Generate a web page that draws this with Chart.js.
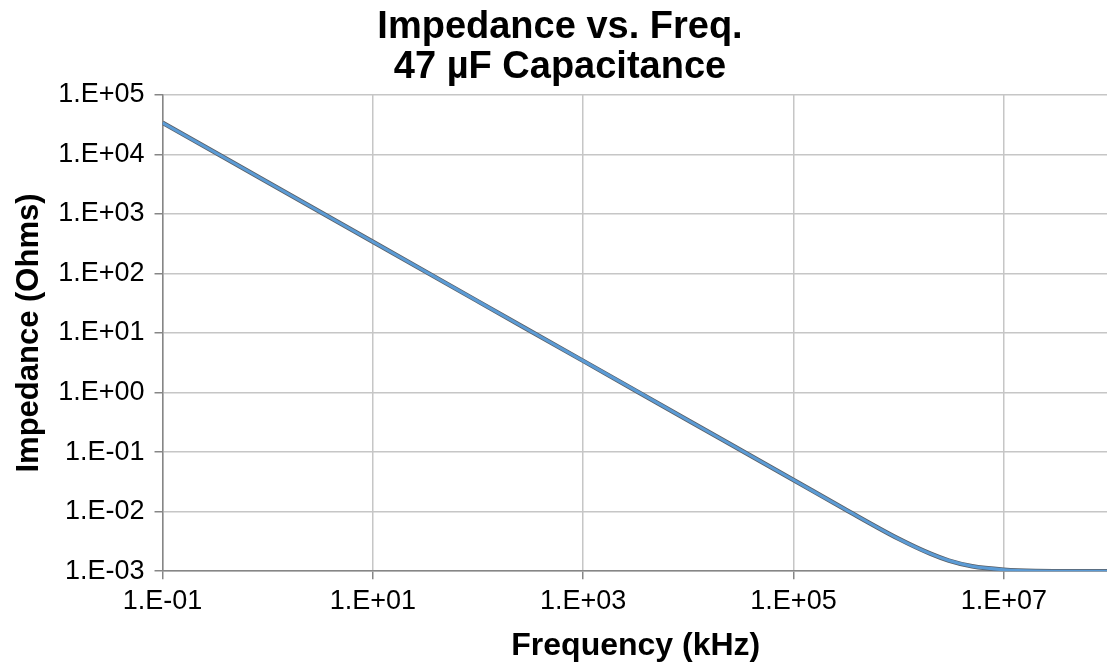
<!DOCTYPE html>
<html>
<head>
<meta charset="utf-8">
<script src="https://cdn.jsdelivr.net/npm/chart.js@4/dist/chart.umd.min.js"></script>
<style>
    html, body { margin: 0; padding: 0; background: #fff; overflow: hidden; }
    #wrap { position: relative; width: 1110px; height: 665px; }
</style>
</head>
<body>
<div id="wrap"><canvas id="impedanceChart"></canvas></div>
<script>
// frequency in kHz and impedance in ohms
const freqKHz = [0.1, 1, 10, 100, 1e3, 1e4, 1e5, 3e5, 1e6, 2e6, 3e6, 5e6, 1e7, 2e7, 5e7, 1e8];
const impedanceOhms = [3.4e4, 3.4e3, 340, 34, 3.4, 0.34, 0.034, 0.0113, 0.0035, 0.00197, 0.00151, 0.00121, 0.00106, 0.00101, 0.00100, 0.00100];

const xTicks = [1e-1, 1e1, 1e3, 1e5, 1e7];
const yTicks = [1e-3, 1e-2, 1e-1, 1e0, 1e1, 1e2, 1e3, 1e4, 1e5];

const FONT = "'Liberation Sans', Arial, sans-serif";
const AXIS_COLOR = "#868686";
const GRID_COLOR = "#c6c6c6";

function sciLabel(value) {
    const exp = Math.round(Math.log10(value));
    const sign = exp < 0 ? "-" : "+";
    return `1.E${sign}${String(Math.abs(exp)).padStart(2, "0")}`;
}

function points() {
    return freqKHz.map((f, i) => ({ x: f, y: impedanceOhms[i] }));
}

new Chart(document.getElementById("impedanceChart"), {
    type: "line",
    data: {
        datasets: [
            // first dataset is painted on top
            {
                data: points(),
                borderColor: "#5b9bd5",
                borderWidth: 3,
                pointRadius: 0,
                cubicInterpolationMode: "monotone"
            },
            {
                data: points(),
                borderColor: "#5a5f66",
                borderWidth: 4.5,
                pointRadius: 0,
                cubicInterpolationMode: "monotone"
            }
        ]
    },
    options: {
        responsive: true,
        maintainAspectRatio: false,
        animation: false,
        layout: { padding: { left: 11, right: 1, top: 8, bottom: 0 } },
        plugins: {
            legend: { display: false },
            tooltip: { enabled: false },
            title: {
                display: true,
                text: ["Impedance vs. Freq.", "47 µF Capacitance"],
                color: "#000",
                font: { family: FONT, size: 38, weight: "bold", lineHeight: 1.05 },
                padding: { top: 0, bottom: 7 }
            }
        },
        scales: {
            x: {
                type: "logarithmic",
                min: 1e-1,
                max: 1e8,
                afterBuildTicks: scale => { scale.ticks = xTicks.map(v => ({ value: v })); },
                ticks: {
                    callback: v => sciLabel(v),
                    color: "#000",
                    font: { family: FONT, size: 27 },
                    padding: 6,
                    maxRotation: 0,
                    autoSkip: false
                },
                grid: { color: GRID_COLOR, tickColor: AXIS_COLOR, tickLength: 8, lineWidth: 1.5 },
                border: { color: AXIS_COLOR, width: 1.5 },
                title: {
                    display: true,
                    text: "Frequency (kHz)",
                    color: "#000",
                    font: { family: FONT, size: 32, weight: "bold" },
                    padding: { top: 3, bottom: 0 }
                }
            },
            y: {
                type: "logarithmic",
                min: 1e-3,
                max: 1e5,
                afterBuildTicks: scale => { scale.ticks = yTicks.map(v => ({ value: v })); },
                ticks: {
                    callback: v => sciLabel(v),
                    color: "#000",
                    font: { family: FONT, size: 27 },
                    padding: 10,
                    autoSkip: false
                },
                grid: { color: GRID_COLOR, tickColor: AXIS_COLOR, tickLength: 8, lineWidth: 1.5 },
                border: { color: AXIS_COLOR, width: 1.5 },
                title: {
                    display: true,
                    text: "Impedance (Ohms)",
                    color: "#000",
                    font: { family: FONT, size: 31, weight: "bold" },
                    padding: { top: 0, bottom: 0 }
                }
            }
        }
    }
});
</script>
</body>
</html>
